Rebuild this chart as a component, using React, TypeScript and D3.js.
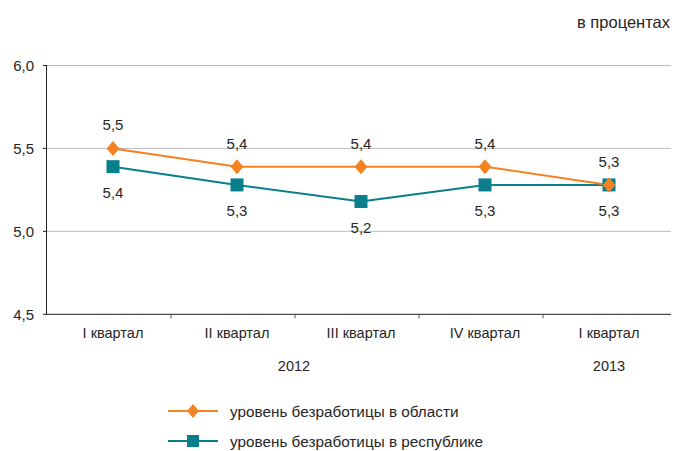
import React from "react";
import * as d3 from "d3";

const categories = ["I квартал", "II квартал", "III квартал", "IV квартал", "I квартал"];
const years = [
  { label: "2012", from: 0, to: 4 },
  { label: "2013", from: 4, to: 5 },
];
const regionValues = [5.5, 5.39, 5.39, 5.39, 5.28];
const regionLabels = ["5,5", "5,4", "5,4", "5,4", "5,3"];
const republicValues = [5.39, 5.28, 5.18, 5.28, 5.28];
const republicLabels = ["5,4", "5,3", "5,2", "5,3", "5,3"];
const yTicks = [4.5, 5.0, 5.5, 6.0];
const seriesNames = ["уровень безработицы в области", "уровень безработицы в республике"];
const unitLabel = "в процентах";

const ORANGE = "#F58220";
const TEAL = "#0A7F8C";
const FONT = "'Liberation Sans', Arial, sans-serif";
const TEXT = "#262626";

export default function App() {
  const W = 673, H = 451;
  const x = d3.scaleBand<number>().domain(d3.range(categories.length)).range([51, 671]);
  const y = d3.scaleLinear().domain([4.5, 6]).range([314.3, 65.5]);
  const cx = (i: number) => (x(i) as number) + x.bandwidth() / 2;
  const line = d3.line<number>().x((_, i) => cx(i)).y((d) => y(d));
  const fmt = (v: number) => v.toFixed(1).replace(".", ",");
  const diamond = (px: number, py: number, s = 7.5) =>
    `M${px},${py - s}L${px + s * 0.85},${py}L${px},${py + s}L${px - s * 0.85},${py}Z`;

  return (
    <svg width={W} height={H} style={{ position: "absolute", left: 0, top: 0, fontFamily: FONT }}>
      <rect width={W} height={H} fill="#fff" />
      <text x={670} y={28} textAnchor="end" fontSize={16.5} fill={TEXT}>{unitLabel}</text>
      {yTicks.map((t) => (
        <g key={t}>
          {t > 4.5 && <line x1={47} x2={671} y1={y(t)} y2={y(t)} stroke="#BDBDBD" strokeWidth={1} />}
          <line x1={43} x2={47} y1={y(t)} y2={y(t)} stroke="#222" />
          <text x={34} y={y(t) + 5.5} textAnchor="end" fontSize={15} fill={TEXT}>{fmt(t)}</text>
        </g>
      ))}
      <line x1={46.5} x2={46.5} y1={y(6)} y2={y(4.5)} stroke="#222" />
      <line x1={46.5} x2={671} y1={y(4.5)} y2={y(4.5)} stroke="#222" />
      {d3.range(1, categories.length).map((i) => {
        const px = (x(i) as number) - 4;
        return <line key={i} x1={px} x2={px} y1={y(4.5)} y2={y(4.5) + 4} stroke="#555" />;
      })}
      {categories.map((c, i) => (
        <text key={i} x={cx(i)} y={338} textAnchor="middle" fontSize={14.5} fill={TEXT}>{c}</text>
      ))}
      {years.map((yr) => {
        const mid = ((x(yr.from) as number) + (x(yr.to - 1) as number) + x.bandwidth()) / 2 - (yr.to - yr.from > 1 ? 5 : 0);
        return <text key={yr.label} x={mid} y={371} textAnchor="middle" fontSize={14.5} fill={TEXT}>{yr.label}</text>;
      })}
      <path d={line(republicValues) || ""} fill="none" stroke={TEAL} strokeWidth={2} />
      <path d={line(regionValues) || ""} fill="none" stroke={ORANGE} strokeWidth={2} />
      {republicValues.map((v, i) => (
        <rect key={i} x={cx(i) - 6.5} y={y(v) - 6.5} width={13} height={13} fill={TEAL} />
      ))}
      {regionValues.map((v, i) => (
        <path key={i} d={diamond(cx(i), y(v))} fill={ORANGE} />
      ))}
      {regionValues.map((v, i) => (
        <text key={i} x={cx(i)} y={y(v) - 18} textAnchor="middle" fontSize={15} fill={TEXT}>{regionLabels[i]}</text>
      ))}
      {republicValues.map((v, i) => (
        <text key={i} x={cx(i)} y={y(v) + 31} textAnchor="middle" fontSize={15} fill={TEXT}>{republicLabels[i]}</text>
      ))}
      <g>
        <line x1={168} x2={218} y1={411} y2={411} stroke={ORANGE} strokeWidth={2} />
        <path d={diamond(193, 411, 7)} fill={ORANGE} />
        <text x={230} y={416.5} fontSize={15.3} fill={TEXT}>{seriesNames[0]}</text>
        <line x1={168} x2={218} y1={441} y2={441} stroke={TEAL} strokeWidth={2} />
        <rect x={187} y={435} width={12} height={12} fill={TEAL} />
        <text x={230} y={446.5} fontSize={15.3} fill={TEXT}>{seriesNames[1]}</text>
      </g>
    </svg>
  );
}
